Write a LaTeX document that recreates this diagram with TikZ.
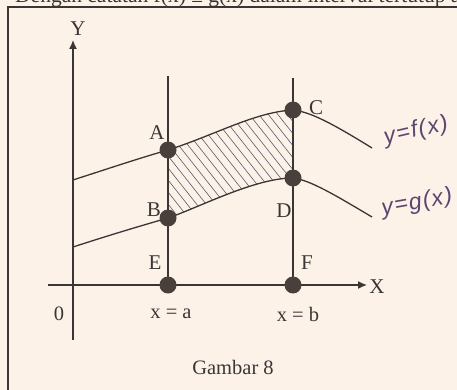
\documentclass[tikz,border=0pt]{standalone}
\usepackage{fontspec}
\setmainfont{Liberation Serif}
\newfontfamily\handfont[LetterSpace=6]{Liberation Sans}
\usetikzlibrary{arrows.meta}
\definecolor{bg}{HTML}{FCF2E8}
\definecolor{ink}{HTML}{3A3636}
\definecolor{dotc}{HTML}{4A403B}
\definecolor{handc}{HTML}{5E4470}
\definecolor{hatchc}{HTML}{5A5A70}
\begin{document}
\begin{tikzpicture}[x=1pt,y=-1pt,
  curve/.style={draw=ink,line width=1.3pt},
  axis/.style={draw=ink,line width=1.3pt},
  dot/.style={circle,fill=dotc,inner sep=0pt,minimum size=17pt},
  lbl/.style={font=\fontsize{21}{24}\selectfont,text=ink,inner sep=0pt},
  txt/.style={font=\fontsize{20.5}{24}\selectfont,text=ink,inner sep=0pt},
  hand/.style={font=\handfont\itshape\fontsize{23}{26}\selectfont,text=handc,inner sep=0pt},
  hatchline/.style={draw=hatchc,line width=0.6pt}]
\fill[bg] (0,0) rectangle (457,390);
\useasboundingbox (0,0) rectangle (457,390);
% cut-off heading line
\node[anchor=base west,font=\fontsize{21.5}{24}\selectfont,text=ink,inner sep=0pt] (head) at (15,3)
  {Dengan catatan f(x) ≥ g(x) dalam interval tertutup a};
% frame
\draw[ink,line width=1.2pt] (8,395) -- (8,7) -- (462,7);
% coordinates
\coordinate (ybot) at (73,340); \coordinate (ytop) at (73,40);
\coordinate (xl) at (48,285);   \coordinate (xr) at (367,285);
\coordinate (f0) at (73,180);   \coordinate (f1) at (372,148);
\coordinate (g0) at (73,247);   \coordinate (g1) at (372,217);
\coordinate (at) at (168,76);   \coordinate (bt) at (293,78);
\coordinate (pA) at (168,150);  \coordinate (pB) at (168,218);
\coordinate (pC) at (293,110);  \coordinate (pD) at (293,178);
\coordinate (pE) at (168,285);  \coordinate (pF) at (293,285);
% hatching
\begin{scope}
\clip (pA) .. controls (215,135) and (255,112) .. (pC) -- (pD)
  .. controls (255,178) and (200,207) .. (pB) -- cycle;
\foreach \k in {40,49.5,...,300} \draw[hatchline] (\k,90) -- ++(150,190);
\end{scope}
% verticals
\draw[axis] (at) -- (pE);
\draw[axis] (bt) -- (pF);
% axes
\draw[axis,-{Latex[length=9pt,width=8pt]}] (ybot) -- (ytop);
\draw[axis,-{Latex[length=9pt,width=8pt]}] (xl) -- (xr);
% curves
\draw[curve] (f0) .. controls (110,168) and (140,158) .. (pA)
  .. controls (215,135) and (255,112) .. (pC)
  .. controls (310,112) and (330,122) .. (f1);
\draw[curve] (g0) .. controls (110,235) and (140,226) .. (pB)
  .. controls (200,207) and (255,178) .. (pD)
  .. controls (310,180) and (335,195) .. (g1);
% dots
\node[dot] (A) at (pA) {};
\node[dot] (B) at (pB) {};
\node[dot] (C) at (pC) {};
\node[dot] (D) at (pD) {};
\node[dot] (E) at (pE) {};
\node[dot] (F) at (pF) {};
% labels
\node[lbl] (lA) at (157,133) {A};
\node[lbl] (lB) at (154,210) {B};
\node[lbl] (lC) at (316,108) {C};
\node[lbl] (lD) at (284,211) {D};
\node[lbl] (lE) at (155,263) {E};
\node[lbl] (lF) at (307,263) {F};
\node[lbl] (lY) at (78,29) {Y};
\node[lbl] (lX) at (377,287) {X};
\node[txt] (l0) at (59,314) {0};
\node[txt] (xa) at (171,314) {x = a};
\node[txt] (xb) at (298,314) {x = b};
\node[txt] (cap) at (233,367) {Gambar 8};
\node[hand,rotate=13] (hf) at (416,131) {y=f(x)};
\node[hand,rotate=10] (hg) at (417,203) {y=g(x)};
\end{tikzpicture}
\end{document}
